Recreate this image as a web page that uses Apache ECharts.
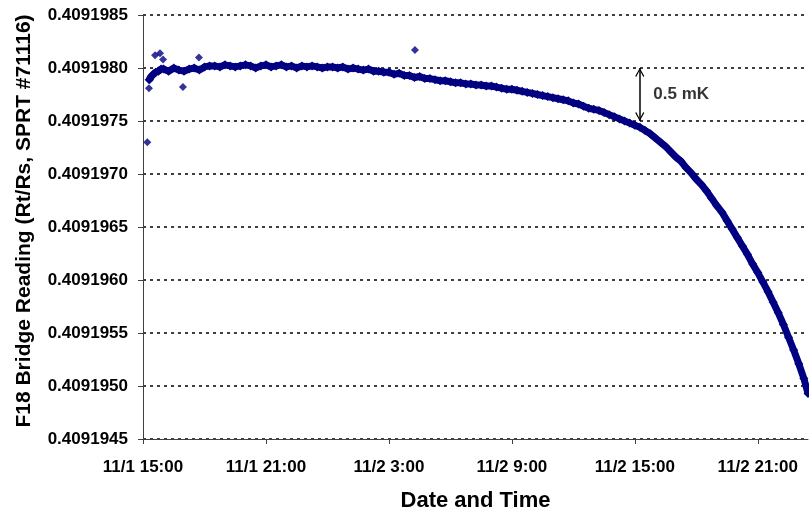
<!DOCTYPE html>
<html>
<head>
<meta charset="utf-8">
<script src="https://cdn.jsdelivr.net/npm/echarts@6/dist/echarts.min.js"></script>
<style>
html,body{margin:0;padding:0;background:#fff;}
#chart{width:809px;height:510px;}
</style>
</head>
<body>
<div id="chart"></div>
<script>
// Hours elapsed since 11/1 15:00
const tickLabels = ['11/1 15:00','11/1 21:00','11/2 3:00','11/2 9:00','11/2 15:00','11/2 21:00'];
const yTitle = 'F18 Bridge Reading (Rt/Rs, SPRT #71116)';
const xTitle = 'Date and Time';
const annotationText = '0.5 mK';

const bandHours = [
  0.30,0.40,0.50,0.62,0.75,0.88,
  1.00,1.25,1.50,1.75,2.00,2.25,2.50,2.75,3.00,3.25,3.50,3.75,4.00,4.25,4.50,4.75,
  5.00,5.25,5.50,5.75,6.00,6.25,6.50,6.75,7.00,7.25,7.50,7.75,8.00,8.25,8.50,8.75,
  9.00,9.25,9.50,9.75,10.00,10.25,10.50,10.75,11.00,11.25,11.50,11.75,12.00,12.25,
  12.50,12.75,13.00,13.25,13.50,13.75,14.00,14.25,14.50,14.75,15.00,15.25,15.50,
  15.75,16.00,16.25,16.50,16.75,17.00,17.25,17.50,17.75,18.00,18.25,18.50,18.75,
  19.00,19.25,19.50,19.75,20.00,20.25,20.50,20.75,21.00,21.25,21.50,21.75,22.00,
  22.25,22.50,22.75,23.00,23.25,23.50,23.75,24.00,24.25,24.50,24.75,25.00,25.25,
  25.50,25.75,26.00,26.25,26.50,26.75,27.00,27.25,27.50,27.75,28.00,28.25,28.50,
  28.75,29.00,29.25,29.50,29.75,30.00,30.25,30.50,30.75,31.00,31.25,31.50,31.75,
  32.00,32.25,32.45
];
const bandValues = [
  0.40919789,0.40919792,0.40919794,0.40919796,0.40919797,0.40919799,
  0.40919799,0.40919797,0.40919800,0.40919798,0.40919797,0.40919799,0.40919800,0.40919798,0.40919801,0.40919802,0.40919802,0.40919801,0.40919803,0.40919802,0.40919801,0.40919802,
  0.40919803,0.40919802,0.40919800,0.40919802,0.40919803,0.40919801,0.40919802,0.40919803,0.40919801,0.40919802,0.40919800,0.40919802,0.40919801,0.40919802,0.40919801,0.40919800,
  0.40919801,0.40919801,0.40919800,0.40919801,0.40919799,0.40919800,0.40919799,0.40919798,0.40919799,0.40919797,0.40919797,0.40919796,0.40919796,0.40919794,
  0.40919795,0.40919793,0.40919793,0.40919791,0.40919792,0.40919790,0.40919790,0.40919789,0.40919788,0.40919788,0.40919787,0.40919786,0.40919786,
  0.40919785,0.40919785,0.40919784,0.40919784,0.40919783,0.40919783,0.40919782,0.40919781,0.40919780,0.40919780,0.40919779,0.40919778,0.40919777,
  0.40919776,0.40919775,0.40919774,0.40919773,0.40919772,0.40919771,0.40919770,0.40919769,0.40919767,0.40919766,0.40919764,0.40919762,0.40919761,
  0.40919760,0.40919758,0.40919756,0.40919754,0.40919752,0.40919750,0.40919748,0.40919746,0.40919744,0.40919741,0.40919738,0.40919734,0.40919730,
  0.40919726,0.40919721,0.40919716,0.40919712,0.40919706,0.40919701,0.40919695,0.40919690,0.40919684,0.40919677,0.40919670,0.40919664,0.40919656,
  0.40919648,0.40919640,0.40919632,0.40919624,0.40919615,0.40919607,0.40919598,0.40919589,0.40919579,0.40919569,0.40919558,0.40919546,0.40919534,
  0.40919521,0.40919507,0.40919493
];
const outlierHours  = [0.21, 0.29, 0.34, 0.49, 0.59, 0.83, 0.98, 1.95, 2.73, 13.27];
const outlierValues = [0.4091973, 0.40919781, 0.40919789, 0.40919793, 0.40919812, 0.40919814, 0.40919808, 0.40919782, 0.4091981, 0.40919817];

const arrowHour = 24.24;
const arrowFrom = 0.4091980, arrowTo = 0.4091975;
const labelHour = 24.9, labelValue = 0.40919775;

const navy = '#000080';
const chevron = 'path://M5,-10 L5.01,-10 L5,-9.99 Z M5,0 L10,9 L9,10 L5,2.6 L1,10 L0,9 Z';
const font = 'Liberation Sans, Arial';

const chart = echarts.init(document.getElementById('chart'), null, {renderer:'canvas'});
chart.setOption({
  animation:false,
  backgroundColor:'#ffffff',
  grid:{left:143, right:1, top:15, bottom:71, containLabel:false, outerBoundsMode:'none'},
  xAxis:{
    type:'value', min:0, max:32.45, interval:6,
    name:xTitle, nameLocation:'middle', nameGap:51,
    nameTextStyle:{fontFamily:font, fontWeight:'bold', fontSize:22, color:'#000'},
    axisLine:{show:true, onZero:false, lineStyle:{color:'#404040', width:1}},
    axisTick:{show:true, length:5, lineStyle:{color:'#404040'}},
    axisLabel:{margin:20, fontFamily:font, fontWeight:'bold', fontSize:17, color:'#000',
      showMaxLabel:false,
      formatter:function(v){ const i=Math.round(v/6); return Math.abs(v-i*6)<1e-6 && tickLabels[i]!==undefined ? tickLabels[i] : ''; }},
    splitLine:{show:false}
  },
  yAxis:{
    type:'value', min:0.4091945, max:0.4091985, interval:0.0000005,
    name:yTitle, nameLocation:'middle', nameGap:108, nameRotate:90,
    nameTextStyle:{fontFamily:font, fontWeight:'bold', fontSize:21, color:'#000', padding:[0,0,0,12]},
    axisLine:{show:true, onZero:false, lineStyle:{color:'#404040', width:1}},
    axisTick:{show:true, length:5, lineStyle:{color:'#404040'}},
    axisLabel:{margin:15, fontFamily:font, fontWeight:'bold', fontSize:17, color:'#000',
      formatter:function(v){ return v.toFixed(7); }},
    splitLine:{show:true, lineStyle:{color:'#000', width:1.5, type:[3,4]}}
  },
  series:[
    {
      type:'line', data:bandHours.map((h,i)=>[h,bandValues[i]]),
      symbol:'diamond', symbolSize:9, showSymbol:true,
      lineStyle:{color:navy, width:7}, itemStyle:{color:navy},
      z:3
    },
    {
      type:'scatter', data:outlierHours.map((h,i)=>[h,outlierValues[i]]),
      symbol:'diamond', symbolSize:8, itemStyle:{color:navy}, z:4
    },
    {
      type:'scatter', data:[[labelHour,labelValue]], symbolSize:0,
      label:{show:true, formatter:annotationText, position:'right', distance:0,
        fontFamily:font, fontWeight:'bold', fontSize:17, color:'#000'},
      markLine:{
        silent:true, animation:false,
        symbol:[chevron, chevron], symbolSize:[9,18],
        lineStyle:{color:'#000', width:1.5, type:'solid'},
        label:{show:false},
        data:[[{coord:[arrowHour,arrowFrom]},{coord:[arrowHour,arrowTo]}]]
      },
      z:5
    }
  ]
});
</script>
</body>
</html>
